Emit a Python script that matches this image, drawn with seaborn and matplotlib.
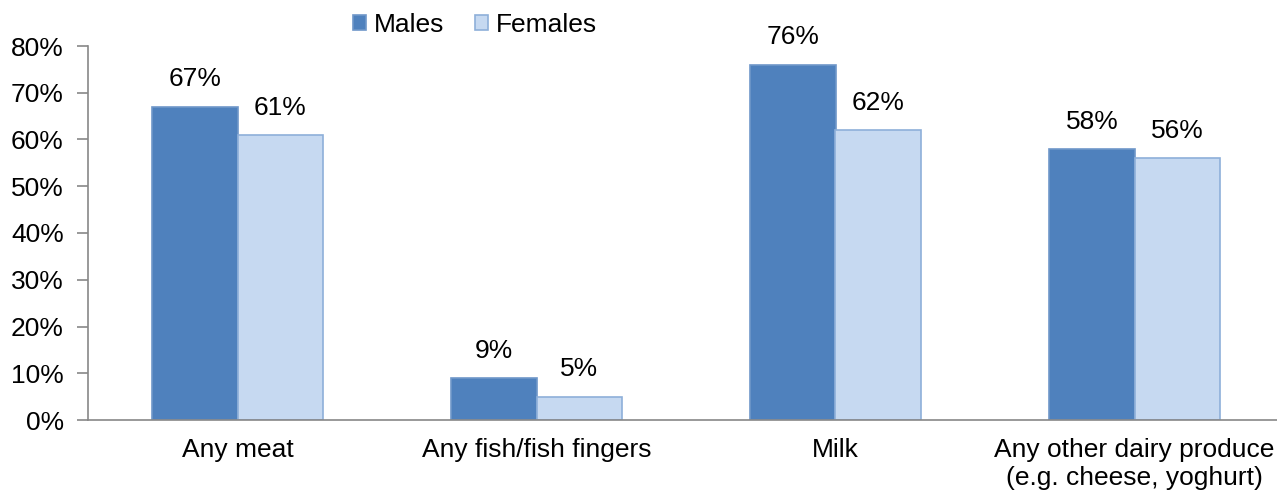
import matplotlib
matplotlib.use("Agg")
import matplotlib.pyplot as plt
from matplotlib.ticker import FixedLocator, PercentFormatter
from matplotlib.patches import Patch
import seaborn as sns
import pandas as pd

categories = ["Any meat", "Any fish/fish fingers", "Milk",
              "Any other dairy produce\n(e.g. cheese, yoghurt)"]
males = [67, 9, 76, 58]
females = [61, 5, 62, 56]
series = ["Males", "Females"]

df = pd.DataFrame({
    "category": categories * 2,
    "value": males + females,
    "sex": ["Males"] * len(categories) + ["Females"] * len(categories),
})

sns.set_style("white")
plt.rcParams["font.family"] = ["Liberation Sans", "DejaVu Sans"]
plt.rcParams["text.color"] = "black"
plt.rcParams["xtick.labelcolor"] = "black"
plt.rcParams["ytick.labelcolor"] = "black"

FS = 19

fig = plt.figure(figsize=(12.77, 4.94), dpi=100)
ax = fig.add_axes([88 / 1277, 74 / 494, 1196 / 1277, 374 / 494])

face = {"Males": "#4F81BD", "Females": "#C6D9F1"}
edge = {"Males": "#6F97C9", "Females": "#8EAFD9"}

sns.barplot(data=df, x="category", y="value", hue="sex", hue_order=series,
            order=categories, palette=face, width=0.569, ax=ax,
            saturation=1, legend=False)

for cont, name in zip(ax.containers, series):
    for p in cont:
        p.set_edgecolor(edge[name])
        p.set_linewidth(1.2)
    ax.bar_label(cont, labels=[f"{v:.0f}%" for v in cont.datavalues],
                 padding=11, fontsize=FS, color="black")

ax.set_ylim(0, 80)
ax.set_xlim(-0.5, len(categories) - 0.5)
ax.set_yticks(range(0, 81, 10))
ax.yaxis.set_major_formatter(PercentFormatter(decimals=0))
ax.xaxis.set_minor_locator(FixedLocator([i - 0.5 for i in range(len(categories) + 1)]))
ax.tick_params(axis="x", which="major", length=0, pad=13, labelsize=FS)
ax.tick_params(axis="x", which="minor", length=8, width=1.2, color="#888888", direction="out")
ax.tick_params(axis="y", length=8, width=1.2, color="#888888", direction="out",
               pad=9.5, labelsize=FS, left=True)
ax.set_xlabel("")
ax.set_ylabel("")
for s in ["top", "right"]:
    ax.spines[s].set_visible(False)
for s in ["left", "bottom"]:
    ax.spines[s].set_color("#888888")
    ax.spines[s].set_linewidth(1.2)

handles = [Patch(facecolor=face[n], edgecolor=edge[n], linewidth=1.2, label=n) for n in series]
fig.legend(handles=handles, loc="center", bbox_to_anchor=(475 / 1277, 1 - 25 / 494),
           ncol=2, frameon=False, fontsize=FS, handlelength=0.5, handleheight=0.5,
           handletextpad=0.3, columnspacing=1.15)

fig.savefig("out.png", dpi=100)
